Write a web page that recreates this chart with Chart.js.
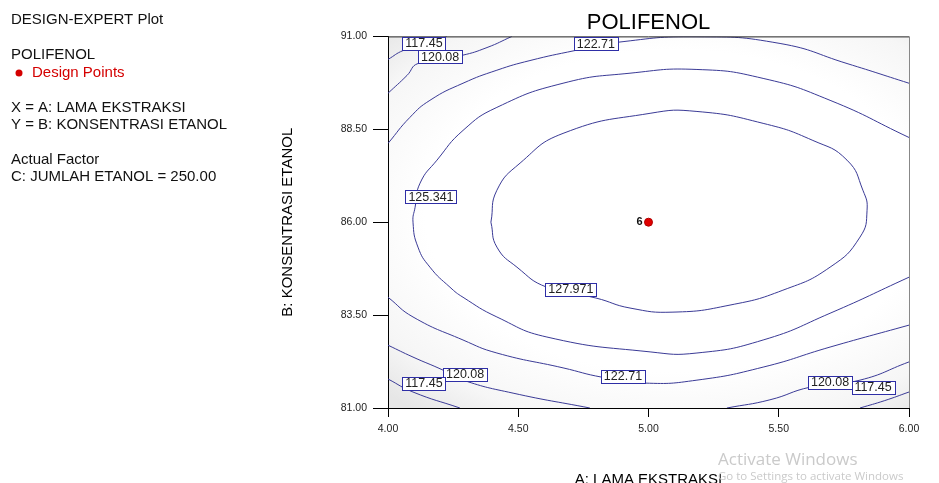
<!DOCTYPE html>
<html>
<head>
<meta charset="utf-8">
<script src="https://cdn.jsdelivr.net/npm/chart.js@4.4.1/dist/chart.umd.min.js"></script>
<style>
  html, body { margin: 0; padding: 0; background: #fff; }
  canvas { display: block; }
</style>
</head>
<body>
<canvas id="myChart" width="939" height="483"></canvas>
<script>
// contour lines (A = lama ekstraksi, B = konsentrasi etanol)
var c117TopLeftX = [4.000, 4.058, 4.142, 4.226];
var c117TopLeftY = [90.38, 90.62, 90.81, 91.00];
var c120TopLeftX = [4.000, 4.073, 4.115, 4.284, 4.380, 4.476];
var c120TopLeftY = [89.47, 89.95, 90.27, 90.49, 90.70, 91.00];
var c122TopX = [4.000, 4.084, 4.161, 4.288, 4.418, 4.545, 4.718, 4.879, 5.186, 5.505, 5.762, 6.000];
var c122TopY = [88.12, 88.82, 89.28, 89.74, 90.09, 90.35, 90.62, 90.84, 90.99, 90.81, 90.27, 89.74];
var c125X = [6.000, 5.697, 5.440, 5.186, 4.929, 4.672, 4.418, 4.288, 4.188, 4.123, 4.104, 4.096, 4.115, 4.161, 4.238, 4.288, 4.418, 4.610, 5.006, 5.186, 5.440, 5.697, 6.000];
var c125Y = [88.28, 89.28, 89.87, 90.11, 90.01, 89.74, 89.09, 88.47, 87.67, 87.05, 86.40, 86.00, 85.33, 84.79, 84.25, 83.98, 83.45, 82.91, 82.51, 82.48, 82.83, 83.55, 84.52];
var c127X = [4.395, 4.418, 4.507, 4.672, 5.006, 5.186, 5.440, 5.631, 5.762, 5.823, 5.839, 5.812, 5.697, 5.516, 5.313, 5.094, 4.929, 4.798, 4.610, 4.495, 4.418, 4.395];
var c127Y = [86.00, 86.86, 87.59, 88.39, 88.93, 88.98, 88.66, 88.20, 87.67, 86.86, 86.32, 85.60, 84.79, 84.17, 83.77, 83.58, 83.69, 83.96, 84.25, 84.79, 85.33, 86.00];
var c122BotX = [4.000, 4.096, 4.288, 4.418, 4.672, 4.821, 4.987, 5.186, 5.440, 5.697, 6.000];
var c122BotY = [83.98, 83.45, 82.83, 82.48, 82.08, 81.83, 81.67, 81.75, 82.10, 82.64, 83.23];
var c120BotLeftX = [4.000, 4.096, 4.211, 4.288, 4.480, 4.775];
var c120BotLeftY = [82.69, 82.37, 82.02, 81.75, 81.40, 81.00];
var c117BotLeftX = [4.000, 4.096, 4.276];
var c117BotLeftY = [81.78, 81.43, 81.00];
var c120BotRightX = [5.301, 5.466, 5.620, 5.812, 6.000];
var c120BotRightY = [81.00, 81.22, 81.56, 81.75, 82.24];
var c117BotRightX = [5.812, 5.907, 6.000];
var c117BotRightY = [81.00, 81.20, 81.43];

// contour value labels
var labelText = ['117.45', '120.08', '122.71', '125.341', '127.971', '120.08', '117.45', '122.71', '120.08', '117.45'];
var labelX = [4.138, 4.200, 4.798, 4.165, 4.702, 4.296, 4.138, 4.902, 5.697, 5.862];
var labelY = [90.81, 90.45, 90.80, 86.69, 84.20, 81.91, 81.66, 81.86, 81.69, 81.56];

// design point
var designX = [5.00];
var designY = [86.00];
var designCount = ['6'];

var xTicks = [4.00, 4.50, 5.00, 5.50, 6.00];
var yTicks = [81.00, 83.50, 86.00, 88.50, 91.00];

var infoLines = ['DESIGN-EXPERT Plot', 'POLIFENOL', 'Design Points', 'X = A: LAMA EKSTRAKSI', 'Y = B: KONSENTRASI ETANOL', 'Actual Factor', 'C: JUMLAH ETANOL = 250.00'];

var lineColor = '#3a3a96';
var FONT = 'Arial, "Liberation Sans", sans-serif';

function pts(xs, ys) {
    var out = [];
    for (var i = 0; i < xs.length; i++) out.push({x: xs[i], y: ys[i]});
    return out;
}
function contour(xs, ys) {
    return {
        type: 'line',
        data: pts(xs, ys),
        borderColor: lineColor,
        borderWidth: 1,
        pointRadius: 0,
        tension: 0.5,
        fill: false
    };
}

var backdrop = {
    id: 'backdrop',
    beforeDraw: function(chart) {
        var a = chart.chartArea, ctx = chart.ctx;
        var cx = chart.scales.x.getPixelForValue(5.1), cy = chart.scales.y.getPixelForValue(86.3);
        ctx.save();
        ctx.fillStyle = '#fff';
        ctx.fillRect(0, 0, chart.width, chart.height);
        ctx.beginPath();
        ctx.rect(a.left, a.top, a.right - a.left, a.bottom - a.top);
        ctx.clip();
        ctx.translate(cx, cy);
        ctx.scale(1.55, 1);
        var g = ctx.createRadialGradient(0, 0, 0, 0, 0, 260);
        g.addColorStop(0, '#ffffff');
        g.addColorStop(0.62, '#ffffff');
        g.addColorStop(0.85, '#f6f6f6');
        g.addColorStop(1, '#e6e6e6');
        ctx.fillStyle = g;
        ctx.fillRect(-400, -400, 800, 800);
        ctx.restore();
    }
};

var annotate = {
    id: 'annotate',
    afterDatasetsDraw: function(chart) {
        var ctx = chart.ctx, sx = chart.scales.x, sy = chart.scales.y, a = chart.chartArea;
        ctx.save();
        // frame top / right
        ctx.lineWidth = 1;
        ctx.strokeStyle = '#222';
        ctx.beginPath();
        ctx.moveTo(a.left, a.top + 0.5);
        ctx.lineTo(a.right, a.top + 0.5);
        ctx.stroke();
        ctx.strokeStyle = '#888';
        ctx.beginPath();
        ctx.moveTo(a.right + 0.5, a.top);
        ctx.lineTo(a.right + 0.5, a.bottom);
        ctx.stroke();

        // contour labels
        ctx.font = '12.5px ' + FONT;
        ctx.textAlign = 'center';
        ctx.textBaseline = 'middle';
        for (var i = 0; i < labelText.length; i++) {
            var px = sx.getPixelForValue(labelX[i]);
            var py = sy.getPixelForValue(labelY[i]);
            var w = Math.round(ctx.measureText(labelText[i]).width + 6);
            var h = 13;
            var l = Math.round(px - w / 2) + 0.5, t = Math.round(py - h / 2) + 0.5;
            ctx.fillStyle = '#fff';
            ctx.fillRect(l, t, w, h);
            ctx.strokeStyle = '#2e2ea6';
            ctx.strokeRect(l, t, w, h);
            ctx.fillStyle = '#222';
            ctx.fillText(labelText[i], px, py + 0.5);
        }

        // design point count
        ctx.font = 'bold 11px ' + FONT;
        ctx.textAlign = 'right';
        for (var j = 0; j < designX.length; j++) {
            ctx.fillStyle = '#111';
            ctx.fillText(designCount[j], sx.getPixelForValue(designX[j]) - 6, sy.getPixelForValue(designY[j]));
        }
        ctx.restore();
    },
    afterDraw: function(chart) {
        var ctx = chart.ctx;
        ctx.save();
        ctx.textAlign = 'left';
        ctx.textBaseline = 'middle';
        ctx.font = '15px ' + FONT;
        var ys = [20, 55, 73, 108, 125, 160, 177];
        for (var i = 0; i < infoLines.length; i++) {
            if (i === 2) {
                ctx.fillStyle = '#d40000';
                ctx.beginPath();
                ctx.arc(19, ys[i], 3.5, 0, Math.PI * 2);
                ctx.fill();
                ctx.fillText(infoLines[i], 32, ys[i]);
            } else {
                ctx.fillStyle = '#111';
                ctx.fillText(infoLines[i], 11, ys[i]);
            }
        }
        // screenshot watermark
        ctx.fillStyle = '#cacaca';
        ctx.font = '17px "Open Sans", sans-serif';
        ctx.fillText('Activate Windows', 718, 460);
        ctx.font = '11.5px "Open Sans", sans-serif';
        ctx.fillText('Go to Settings to activate Windows', 718, 477);
        ctx.restore();
    }
};

var ctx = document.getElementById('myChart').getContext('2d');
var myChart = new Chart(ctx, {
    data: {
        datasets: [
            {
                type: 'scatter',
                data: pts(designX, designY),
                pointRadius: 4,
                pointBackgroundColor: '#e00000',
                pointBorderColor: '#b00000',
                pointBorderWidth: 1
            },
            contour(c117TopLeftX, c117TopLeftY),
            contour(c120TopLeftX, c120TopLeftY),
            contour(c122TopX, c122TopY),
            contour(c125X, c125Y),
            contour(c127X, c127Y),
            contour(c122BotX, c122BotY),
            contour(c120BotLeftX, c120BotLeftY),
            contour(c117BotLeftX, c117BotLeftY),
            contour(c120BotRightX, c120BotRightY),
            contour(c117BotRightX, c117BotRightY)
        ]
    },
    options: {
        responsive: false,
        animation: false,
        layout: { padding: { left: 275, right: 30, top: 0, bottom: 0 } },
        plugins: {
            legend: { display: false },
            tooltip: { enabled: false },
            title: {
                display: true,
                text: 'POLIFENOL',
                fullSize: false,
                color: '#000',
                font: { family: FONT, size: 22, weight: 'normal' },
                padding: { top: 10, bottom: 0 }
            }
        },
        scales: {
            x: {
                type: 'linear',
                min: 4, max: 6,
                afterBuildTicks: function(scale) {
                    scale.ticks = xTicks.map(function(v) { return {value: v}; });
                },
                afterFit: function(scale) { scale.height = 75; },
                grid: { drawOnChartArea: false, tickLength: 9, color: '#000' },
                border: { color: '#000' },
                ticks: {
                    color: '#222',
                    padding: 6,
                    maxRotation: 0,
                    font: { family: FONT, size: 10.5 },
                    callback: function(v) { return Number(v).toFixed(2); }
                },
                title: {
                    display: true,
                    text: 'A: LAMA EKSTRAKSI',
                    color: '#000',
                    font: { family: FONT, size: 15 },
                    padding: { top: 0, bottom: -6 }
                }
            },
            y: {
                type: 'linear',
                min: 81, max: 91,
                afterBuildTicks: function(scale) {
                    scale.ticks = yTicks.map(function(v) { return {value: v}; });
                },
                afterFit: function(scale) { scale.width = 113; },
                grid: { drawOnChartArea: false, tickLength: 15, color: '#000' },
                border: { color: '#000' },
                ticks: {
                    color: '#222',
                    padding: 6,
                    font: { family: FONT, size: 10.5 },
                    callback: function(v) { return Number(v).toFixed(2); }
                },
                title: {
                    display: true,
                    text: 'B: KONSENTRASI ETANOL',
                    color: '#000',
                    font: { family: FONT, size: 15 },
                    padding: { top: 4, bottom: 4 }
                }
            }
        }
    },
    plugins: [backdrop, annotate]
});
</script>
</body>
</html>
